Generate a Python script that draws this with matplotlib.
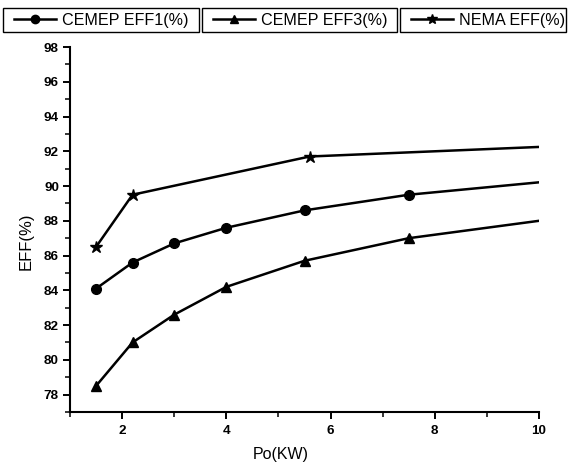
import matplotlib
matplotlib.use("Agg")
import matplotlib.pyplot as plt
from matplotlib.ticker import MultipleLocator
from matplotlib.lines import Line2D
from matplotlib.patches import Rectangle

plt.rcParams['font.family'] = ['Liberation Sans', 'DejaVu Sans']

# Data
eff1_x = [1.5, 2.2, 3.0, 4.0, 5.5, 7.5, 11.0]
eff1_y = [84.1, 85.6, 86.7, 87.6, 88.6, 89.5, 90.5]
eff3_x = [1.5, 2.2, 3.0, 4.0, 5.5, 7.5, 11.0]
eff3_y = [78.5, 81.0, 82.6, 84.2, 85.7, 87.0, 88.4]
nema_x = [1.5, 2.2, 5.6, 11.2]
nema_y = [86.5, 89.5, 91.7, 92.4]

labels = ["CEMEP EFF1(%)", "CEMEP EFF3(%)", "NEMA EFF(%)"]
markers = ['o', '^', '*']

W, H = 568, 463
fig = plt.figure(figsize=(W / 100, H / 100), dpi=100)
ax_l, ax_r, ax_t, ax_b = 70, 539, 47, 412
ax = fig.add_axes([ax_l / W, 1 - ax_b / H, (ax_r - ax_l) / W, (ax_b - ax_t) / H])

lw = 1.8
ax.plot(eff1_x, eff1_y, color='black', lw=lw, marker='o', markersize=7)
ax.plot(eff3_x, eff3_y, color='black', lw=lw, marker='^', markersize=7.5)
ax.plot(nema_x, nema_y, color='black', lw=lw, marker='*', markersize=9)

ax.set_xlim(1, 10)
ax.set_ylim(77, 98)
ax.xaxis.set_major_locator(MultipleLocator(2))
ax.xaxis.set_minor_locator(MultipleLocator(1))
ax.yaxis.set_major_locator(MultipleLocator(2))
ax.yaxis.set_minor_locator(MultipleLocator(1))
for s in ['top', 'right']:
    ax.spines[s].set_visible(False)
for s in ['left', 'bottom']:
    ax.spines[s].set_linewidth(1.5)
ax.tick_params(which='major', direction='out', length=5, width=1.4, labelsize=9.7, pad=3)
ax.tick_params(axis='x', which='major', pad=4)
ax.tick_params(which='minor', direction='out', length=3.5, width=1.1)
for t in ax.get_xticklabels() + ax.get_yticklabels():
    t.set_fontweight('bold')

ax.set_xlabel("Po(KW)", fontsize=11.5)
ax.set_ylabel("EFF(%)", fontsize=12)
ax.xaxis.set_label_coords((281 - ax_l) / (ax_r - ax_l), -(455 - ax_b) / (ax_b - ax_t))
ax.yaxis.set_label_coords(-(ax_l - 26) / (ax_r - ax_l), (ax_b - 241) / (ax_b - ax_t))
ax.xaxis.label.set_va('center')
ax.yaxis.label.set_va('center')

# Three separate framed legend boxes at the top
boxes = [(3, 199), (202, 397), (400, 566)]
box_top, box_bot = 8, 32
for (x0, x1), m, lab in zip(boxes, markers, labels):
    fig.patches.append(Rectangle((x0 / W, 1 - box_bot / H), (x1 - x0) / W, (box_bot - box_top) / H,
                                 transform=fig.transFigure, fill=False,
                                 edgecolor='black', linewidth=1.0))
    proxy = Line2D([], [], color='black', lw=lw, marker=m,
                   markersize=6 if m != '*' else 7.5)
    fig.legend([proxy], [lab], loc='center left',
               bbox_to_anchor=((x0 + 11) / W, 1 - (box_top + box_bot) / 2 / H),
               fontsize=11.6, frameon=False, handlelength=2.6,
               handletextpad=0.35, borderpad=0, borderaxespad=0)

fig.savefig("out.png", dpi=100)
